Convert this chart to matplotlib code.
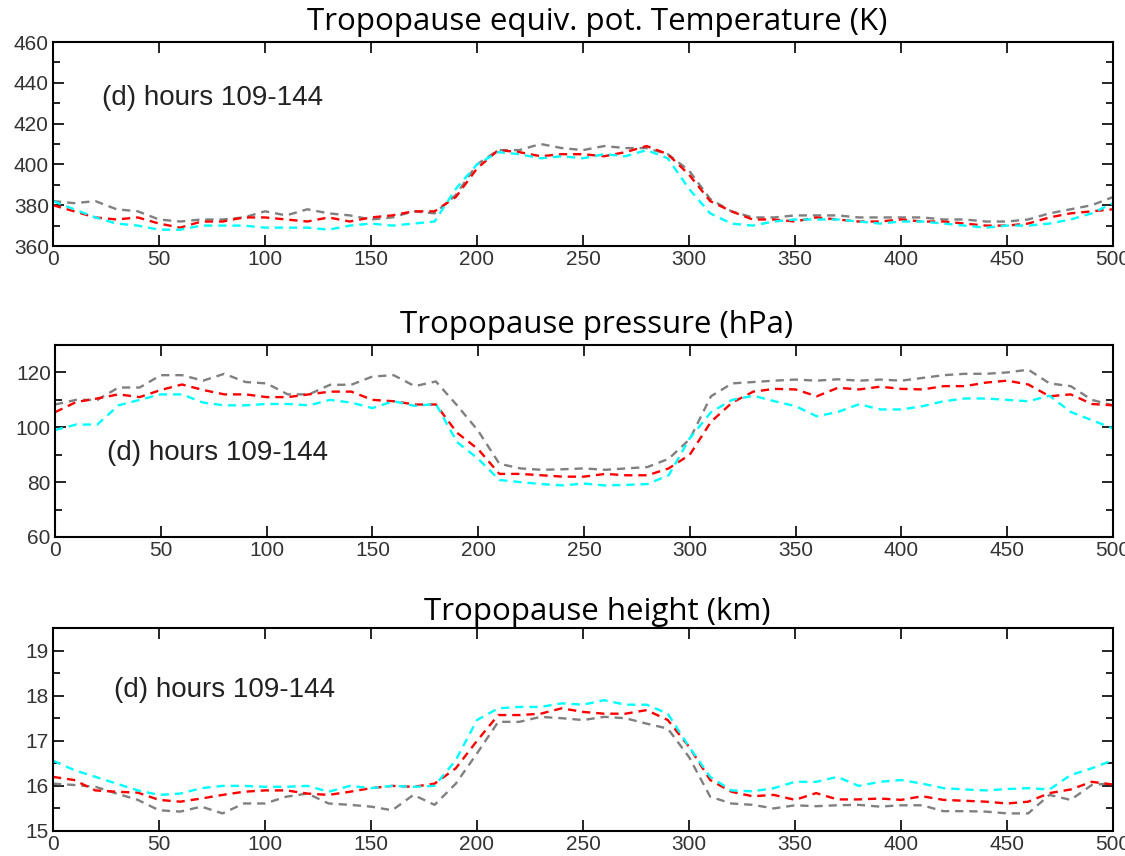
import numpy as np
import matplotlib
matplotlib.use('Agg')
from matplotlib import pyplot as plt
from matplotlib.ticker import MultipleLocator

# Distance along the section, every 10 units
x = np.arange(0, 501, 10)

# Tropopause equiv. pot. temperature (K)
temp_gray = [382, 381, 382, 378, 377, 373, 372, 373, 373, 374, 377, 375, 378, 376, 375, 373, 374,
             377, 376, 385, 400, 407, 407, 410, 408, 407, 409, 408, 408, 405, 397, 383, 377, 374,
             374, 375, 375, 375, 374, 374, 374, 374, 373, 373, 372, 372, 373, 376, 378, 380, 384]
temp_red = [380, 377, 374, 373, 374, 371, 369, 372, 372, 374, 374, 373, 372, 374, 372, 374, 375,
            377, 377, 384, 398, 407, 406, 404, 405, 405, 404, 406, 409, 405, 395, 382, 377, 373,
            373, 372, 374, 373, 372, 372, 373, 372, 372, 371, 370, 370, 371, 374, 376, 377, 378]
temp_cyan = [382, 378, 374, 371, 370, 368, 368, 370, 370, 370, 369, 369, 369, 368, 370, 371, 370,
             371, 372, 388, 400, 406, 405, 403, 404, 403, 405, 404, 407, 403, 388, 376, 371, 370,
             372, 373, 373, 373, 372, 371, 372, 372, 371, 370, 369, 370, 370, 371, 373, 376, 381]

# Tropopause pressure (hPa)
pres_gray = [108.3, 110, 110, 114.5, 114.5, 119, 119, 117, 119.5, 116.5, 116, 112, 112, 115.5,
             115.5, 118.5, 119, 115, 116.7, 108, 98.7, 86.7, 85, 84.5, 84.7, 85, 84.5, 85, 85.5,
             88.5, 95.7, 111.3, 116, 116.5, 117, 117.4, 117, 117.5, 117, 117.4, 117, 118, 119,
             119.5, 119.5, 120, 121, 116, 115, 110, 108]
pres_red = [105.5, 109.2, 110.5, 112, 111, 113.6, 115.6, 113.6, 112, 112, 111, 111, 112, 113,
            113, 110, 109.5, 108.3, 108.3, 98, 92, 83, 83, 82.5, 82, 82, 83, 82.5, 82.5, 85, 90,
            102, 109, 113, 114, 113.8, 111.3, 114.4, 113.8, 114.8, 114, 113.8, 115, 115, 116.3,
            117, 115.6, 111.3, 112, 108.5, 108]
pres_cyan = [99, 101, 101, 108, 110, 112, 112, 109, 108, 108, 108.5, 108.5, 108, 110, 109, 107,
             109.5, 107.8, 108.5, 94.6, 88.5, 80.8, 80, 79.3, 78.8, 79.5, 78.8, 79, 79.3, 82.5,
             96, 105.5, 110, 111.5, 109.5, 107.7, 104, 105.6, 108.4, 106.5, 106.5, 107.7, 109.5,
             110.5, 110.5, 110, 109.5, 111.5, 105.6, 102.6, 99.6]

# Tropopause height (km)
hgt_gray = [16.05, 16.02, 15.98, 15.83, 15.69, 15.46, 15.43, 15.54, 15.39, 15.61, 15.61, 15.76,
            15.83, 15.61, 15.58, 15.54, 15.46, 15.8, 15.58, 16.05, 16.72, 17.42, 17.42, 17.53,
            17.5, 17.46, 17.53, 17.5, 17.38, 17.27, 16.64, 15.76, 15.61, 15.58, 15.5, 15.57,
            15.55, 15.57, 15.58, 15.54, 15.57, 15.57, 15.44, 15.44, 15.43, 15.39, 15.39, 15.8,
            15.69, 16.02, 16.06]
hgt_red = [16.2, 16.13, 15.9, 15.87, 15.85, 15.69, 15.65, 15.72, 15.8, 15.87, 15.9, 15.9, 15.83,
           15.8, 15.87, 15.95, 16.0, 15.98, 16.05, 16.39, 17.0, 17.57, 17.57, 17.6, 17.72, 17.64,
           17.6, 17.6, 17.68, 17.46, 16.87, 16.13, 15.87, 15.77, 15.8, 15.69, 15.84, 15.7, 15.7,
           15.72, 15.69, 15.77, 15.69, 15.67, 15.65, 15.61, 15.65, 15.84, 15.92, 16.09, 16.03]
hgt_cyan = [16.56, 16.35, 16.2, 16.05, 15.9, 15.8, 15.83, 15.95, 16.0, 16.0, 15.98, 15.98, 16.0,
            15.87, 16.0, 15.95, 16.0, 15.98, 16.0, 16.57, 17.46, 17.72, 17.75, 17.75, 17.83, 17.8,
            17.9, 17.8, 17.8, 17.6, 16.87, 16.2, 15.9, 15.88, 15.95, 16.09, 16.09, 16.2, 16.0,
            16.09, 16.13, 16.05, 15.95, 15.92, 15.9, 15.93, 15.95, 15.92, 16.24, 16.39, 16.57]

titles = ['Tropopause equiv. pot. Temperature (K)',
          'Tropopause pressure (hPa)',
          'Tropopause height (km)']
label = '(d) hours 109-144'

panels = [
    # (data, ylim, major, minor, axes rect, label pos, title y)
    ((temp_gray, temp_red, temp_cyan), (360, 460), 20, 10,
     [53/1125, 1 - 246/856, 1060/1125, 204/856], (0.046, 0.725), 1 - 22/856),
    ((pres_gray, pres_red, pres_cyan), (60, 130), 20, 10,
     [55/1125, 1 - 537/856, 1058/1125, 192/856], (0.049, 0.44), 1 - 325/856),
    ((hgt_gray, hgt_red, hgt_cyan), (15, 19.5), 1, 0.5,
     [53/1125, 1 - 831/856, 1060/1125, 203/856], (0.058, 0.695), 1 - 612/856),
]

fig = plt.figure(figsize=(11.25, 8.56), dpi=100)

for (series, ylim, major, minor, rect, lpos, ty), title in zip(panels, titles):
    ax = fig.add_axes(rect)
    for vals, col in zip(series, ['gray', 'red', 'cyan']):
        ax.plot(x, vals, color=col, ls='--', lw=1.7, dashes=(3.5, 2.5))
    ax.set_xlim(0, 500)
    ax.set_ylim(*ylim)
    ax.xaxis.set_major_locator(MultipleLocator(50))
    ax.yaxis.set_major_locator(MultipleLocator(major))
    ax.yaxis.set_minor_locator(MultipleLocator(minor))
    ax.tick_params(which='both', direction='in', top=True, right=True,
                   labelsize=15, labelcolor='#333333', width=1.2)
    ax.tick_params(which='major', length=8, pad=3)
    ax.tick_params(which='minor', length=5)
    for lab in ax.get_xticklabels() + ax.get_yticklabels():
        lab.set_fontfamily('Liberation Sans')
    for s in ax.spines.values():
        s.set_linewidth(1.5)
    ax.text(lpos[0], lpos[1], label, transform=ax.transAxes, fontsize=20,
            family='Liberation Sans', color='#222222', va='center', ha='left')
    fig.text(597/1125, ty, title, ha='center', va='center', fontsize=22.5,
             family='Open Sans', color='black')

fig.savefig('out.png', dpi=100)
